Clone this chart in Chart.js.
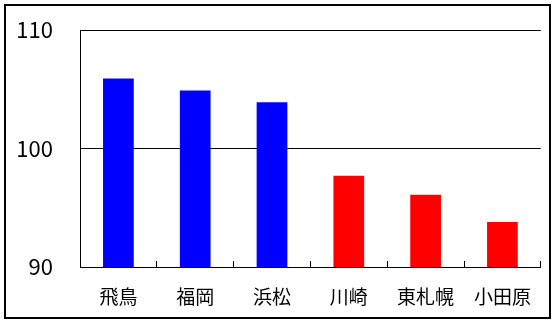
<!DOCTYPE html>
<html>
<head>
<meta charset="utf-8">
<script src="https://cdn.jsdelivr.net/npm/chart.js@4"></script>
<style>
  body { margin: 0; background: #fff; }
  #wrap { width: 556px; height: 323px; }
</style>
</head>
<body>
<div id="wrap"><canvas id="myChart" width="556" height="323"></canvas></div>
<script>
const labels = ['飛鳥', '福岡', '浜松', '川崎', '東札幌', '小田原'];
const values = [105.9, 104.9, 103.9, 97.7, 96.1, 93.8];
const barColors = ['#0000ff', '#0000ff', '#0000ff', '#ff0000', '#ff0000', '#ff0000'];
const yTicks = [90, 100, 110];

// outer frame round the whole picture
const frame = {
  id: 'frame',
  afterDraw(chart) {
    const c = chart.ctx;
    c.save();
    c.strokeStyle = '#000';
    c.lineWidth = 2;
    c.strokeRect(5, 5, 545, 313);
    c.restore();
  }
};

const ctx = document.getElementById('myChart');

new Chart(ctx, {
  type: 'bar',
  data: {
    labels: labels,
    datasets: [{
      data: values,
      backgroundColor: barColors,
      barPercentage: 0.4,
      categoryPercentage: 1
    }]
  },
  options: {
    responsive: false,
    animation: false,
    layout: { padding: { left: 0, top: 30, right: 13, bottom: 0 } },
    plugins: {
      legend: { display: false },
      tooltip: { enabled: false }
    },
    scales: {
      x: {
        grid: { offset: true, drawOnChartArea: false, color: '#000', tickLength: -6 },
        border: { color: '#000' },
        ticks: {
          color: '#000',
          padding: 24,
          font: { family: 'Noto Sans CJK JP', size: 19 }
        },
        afterFit(scale) { scale.height = 56; }
      },
      y: {
        min: 90,
        max: 110,
        afterBuildTicks(scale) { scale.ticks = yTicks.map(v => ({ value: v })); },
        grid: { color: '#000', drawTicks: false },
        border: { color: '#000' },
        ticks: {
          color: '#000',
          padding: 27,
          font: { family: 'Noto Sans CJK JP', size: 22 }
        },
        afterFit(scale) {
          scale.width = 80;
          scale.paddingTop = 0;
          scale.paddingBottom = 0;
        }
      }
    }
  },
  plugins: [frame]
});
</script>
</body>
</html>
